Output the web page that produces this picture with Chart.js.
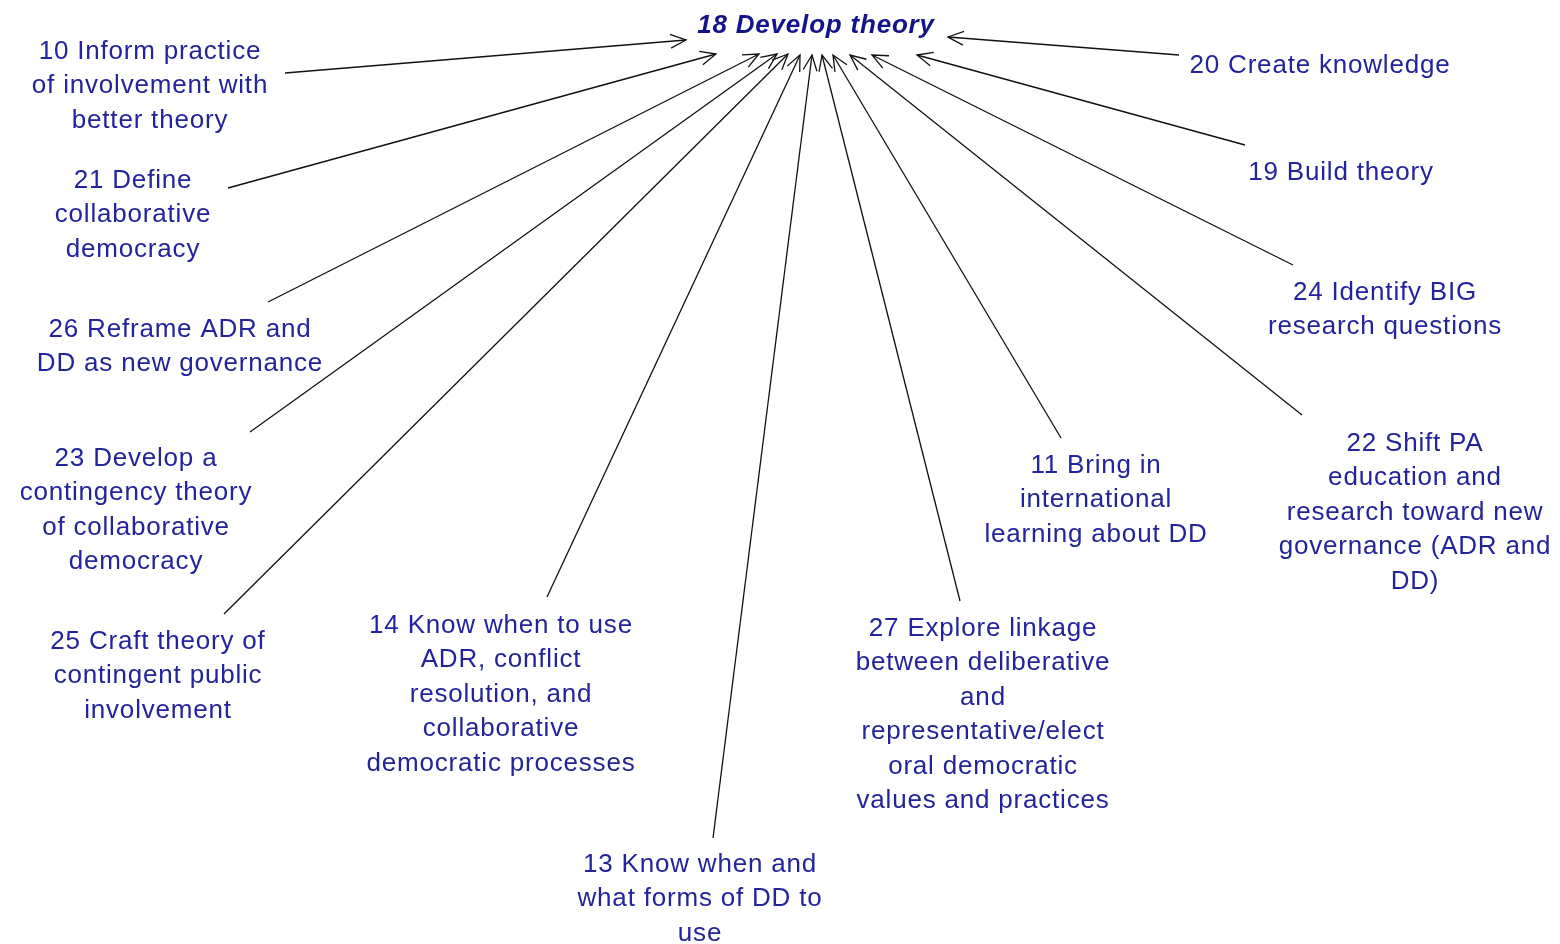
<!DOCTYPE html>
<html>
<head>
<meta charset="utf-8">
<title>18 Develop theory</title>
<script src="https://cdn.jsdelivr.net/npm/chart.js@4/dist/chart.umd.min.js"></script>
<style>
    html, body { margin: 0; padding: 0; background: #fff; }
    #wrap { position: relative; width: 1560px; height: 944px; }
</style>
</head>
<body>
<div id="wrap"><canvas id="map"></canvas></div>
<script>
// central concept
const centralLabel = '18 Develop theory';
const centralX = 816;
const centralY = 33;

// contributing concepts, one entry per node (text is already broken into lines)
const nodeLabels = [
    ['10 Inform practice', 'of involvement with', 'better theory'],
    ['21 Define', 'collaborative', 'democracy'],
    ['26 Reframe ADR and', 'DD as new governance'],
    ['23 Develop a', 'contingency theory', 'of collaborative', 'democracy'],
    ['25 Craft theory of', 'contingent public', 'involvement'],
    ['14 Know when to use', 'ADR, conflict', 'resolution, and', 'collaborative', 'democratic processes'],
    ['13 Know when and', 'what forms of DD to', 'use'],
    ['27 Explore linkage', 'between deliberative', 'and', 'representative/elect', 'oral democratic', 'values and practices'],
    ['11 Bring in', 'international', 'learning about DD'],
    ['22 Shift PA', 'education and', 'research toward new', 'governance (ADR and', 'DD)'],
    ['24 Identify BIG', 'research questions'],
    ['19 Build theory'],
    ['20 Create knowledge'],
];
// label anchor: centre of text, baseline of first line
const labelX = [150, 133, 180, 136, 158, 501, 700, 983, 1096, 1415, 1385, 1341, 1320];
const labelY = [59, 188, 337, 466, 649, 633, 872, 636, 473, 451, 300, 180, 73];

// link tails (at the node) and heads (at 18 Develop theory)
const tailX = [285, 228, 268, 250, 224, 547, 713, 960, 1061, 1302, 1293, 1245, 1179];
const tailY = [73, 188, 302, 432, 614, 597, 838, 601, 438, 415, 265, 145, 55];
const headX = [686, 716, 759, 777, 788, 800, 812, 822, 833, 850, 872, 917, 948];
const headY = [40, 54, 54, 54, 54, 55, 55, 55, 55, 55, 55, 55, 37];

const TEXT_FONT = '26px "Liberation Sans", Arial, sans-serif';
const TITLE_FONT = 'italic bold 26px "Liberation Sans", Arial, sans-serif';
const LINE_H = 34.4;

const datasets = nodeLabels.map((lbl, i) => ({
    label: lbl.join(' '),
    data: [{x: tailX[i], y: tailY[i]}, {x: headX[i], y: headY[i]}],
    showLine: true,
    borderColor: '#111',
    borderWidth: 1.3,
    pointRadius: 0,
    fill: false,
}));

const mapPlugin = {
    id: 'conceptMap',
    afterDatasetsDraw(chart) {
        const {ctx, scales: {x, y}} = chart;
        ctx.save();

        // open arrowheads at the head end of every link
        ctx.strokeStyle = '#111';
        ctx.lineWidth = 1.3;
        headX.forEach((hx, i) => {
            const px = x.getPixelForValue(hx), py = y.getPixelForValue(headY[i]);
            const tx = x.getPixelForValue(tailX[i]), ty = y.getPixelForValue(tailY[i]);
            const ang = Math.atan2(ty - py, tx - px);
            const len = 17, spread = 0.42;
            ctx.beginPath();
            ctx.moveTo(px + len * Math.cos(ang - spread), py + len * Math.sin(ang - spread));
            ctx.lineTo(px, py);
            ctx.lineTo(px + len * Math.cos(ang + spread), py + len * Math.sin(ang + spread));
            ctx.stroke();
        });

        ctx.textAlign = 'center';
        ctx.textBaseline = 'alphabetic';
        ctx.letterSpacing = '0.8px';

        ctx.font = TEXT_FONT;
        ctx.fillStyle = '#23239b';
        nodeLabels.forEach((lines, i) => {
            const cx = x.getPixelForValue(labelX[i]);
            const cy = y.getPixelForValue(labelY[i]);
            lines.forEach((ln, k) => ctx.fillText(ln, cx, cy + k * LINE_H));
        });

        ctx.font = TITLE_FONT;
        ctx.fillStyle = '#13138a';
        ctx.fillText(centralLabel, x.getPixelForValue(centralX), y.getPixelForValue(centralY));

        ctx.restore();
    }
};

const chart = new Chart(document.getElementById('map'), {
    type: 'scatter',
    data: {datasets},
    options: {
        responsive: true,
        maintainAspectRatio: false,
        animation: false,
        layout: {padding: 0},
        plugins: {legend: {display: false}, tooltip: {enabled: false}},
        scales: {
            x: {type: 'linear', min: 0, max: 1560, display: false},
            y: {type: 'linear', min: 0, max: 944, reverse: true, display: false},
        },
    },
    plugins: [mapPlugin],
});
</script>
</body>
</html>
